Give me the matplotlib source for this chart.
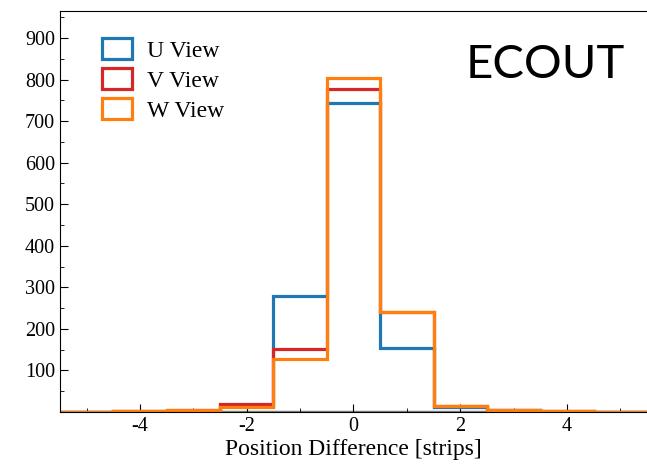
import numpy as np
import matplotlib
matplotlib.use('Agg')
import matplotlib.pyplot as plt
from matplotlib.ticker import MultipleLocator

# bin centres in strips
centers = [-5, -4, -3, -2, -1, 0, 1, 2, 3, 4, 5]
u_counts = [0, 2, 3, 15, 278, 744, 153, 13, 5, 2, 0]
v_counts = [0, 2, 4, 20, 152, 778, 241, 14, 5, 2, 0]
w_counts = [0, 2, 4, 13, 128, 805, 241, 14, 5, 2, 0]
labels = ['U View', 'V View', 'W View']
colors = ['#1f77b4', '#d62728', '#ff7f0e']

plt.rcParams['font.family'] = ['Liberation Serif', 'DejaVu Serif']
plt.rcParams['axes.unicode_minus'] = False

fig = plt.figure(figsize=(6.47, 4.69), dpi=100)
ax = fig.add_axes([0.0927, 0.1215, 1 - 0.0927, 0.855])

bins = np.arange(-5.5, 6.5, 1)
ax.axhline(0, color='gray', lw=2.5, zorder=1)
for counts, lab, c in zip([u_counts, v_counts, w_counts], labels, colors):
    ax.hist(centers, bins=bins, weights=counts, histtype='step', color=c, lw=2.3, label=lab)

ax.set_xlim(-5.5, 5.5)
ax.set_ylim(0, 965)
ax.set_yticks([100, 200, 300, 400, 500, 600, 700, 800, 900])
ax.xaxis.set_major_locator(MultipleLocator(2))
ax.xaxis.set_minor_locator(MultipleLocator(1))
ax.yaxis.set_minor_locator(MultipleLocator(50))
ax.tick_params(which='both', direction='in', labelsize=14.5)
ax.tick_params(which='major', length=6)
ax.tick_params(which='minor', length=3)
ax.spines['right'].set_visible(False)

ax.set_xlabel('Position Difference [strips]', fontsize=17, labelpad=2)

ax.legend(loc='upper left', fontsize=17, frameon=False, bbox_to_anchor=(0.035, 0.985),
          handlelength=1.3, handleheight=1.0, handletextpad=0.6, labelspacing=0.27)

ax.text(0.962, 0.865, 'ECOUT', transform=ax.transAxes, ha='right', va='center',
        fontsize=34, family=['Lato', 'DejaVu Sans'])

fig.savefig('out.png', dpi=100)
